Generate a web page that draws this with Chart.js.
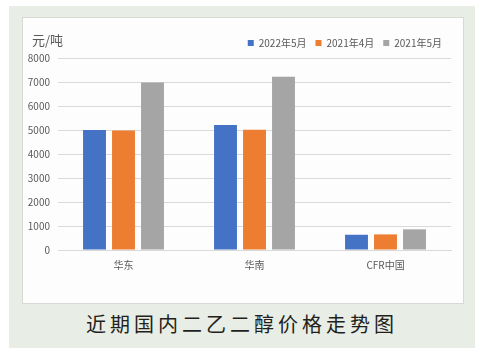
<!DOCTYPE html>
<html lang="zh">
<head>
<meta charset="UTF-8">
<title>近期国内二乙二醇价格走势图</title>
<script src="https://cdn.jsdelivr.net/npm/chart.js"></script>
<style>
    body {
        margin: 0;
        padding: 0;
        background: #ffffff;
        font-family: 'Noto Sans CJK SC', 'Noto Sans', sans-serif;
    }
    .frame {
        position: absolute;
        left: 9px;
        top: 6px;
        width: 466px;
        height: 342px;
        background: #e8ede6;
    }
    .card {
        position: absolute;
        left: 22px;
        top: 17px;
        width: 440px;
        height: 285px;
        background: #fdfdfd;
        border: 1px solid #d6d9d4;
    }
    .unit {
        position: absolute;
        left: 9px;
        top: 12px;
        font-size: 13px;
        color: #595959;
    }
    .caption {
        position: absolute;
        left: 9px;
        top: 309px;
        width: 466px;
        text-align: center;
        font-size: 20px;
        letter-spacing: 4px;
        color: #231f1c;
    }
    canvas { display: block; }
</style>
</head>
<body>
<div class="frame"></div>
<div class="card">
    <canvas id="chart" width="440" height="285"></canvas>
    <div class="unit">元/吨</div>
</div>
<div class="caption">近期国内二乙二醇价格走势图</div>

<script>
    // 数据
    const regions = ['华东', '华南', 'CFR中国'];
    const may2022 = [5000, 5210, 635];
    const apr2021 = [4980, 5010, 650];
    const may2021 = [6980, 7220, 860];
    const seriesNames = ['2022年5月', '2021年4月', '2021年5月'];

    const font = "'Noto Sans CJK SC', 'Noto Sans', sans-serif";

    new Chart(document.getElementById('chart'), {
        type: 'bar',
        data: {
            labels: regions,
            datasets: [
                { label: seriesNames[0], data: may2022, backgroundColor: '#4472c4' },
                { label: seriesNames[1], data: apr2021, backgroundColor: '#ed7d31' },
                { label: seriesNames[2], data: may2021, backgroundColor: '#a5a5a5' }
            ]
        },
        options: {
            responsive: false,
            animation: false,
            categoryPercentage: 0.664,
            barPercentage: 0.79,
            layout: {
                padding: { left: 0, right: 12, top: 11, bottom: 31 }
            },
            plugins: {
                legend: {
                    position: 'top',
                    align: 'end',
                    labels: {
                        boxWidth: 6,
                        boxHeight: 6,
                        padding: 9,
                        color: '#595959',
                        font: { family: font, size: 10 }
                    }
                },
                tooltip: { enabled: false }
            },
            scales: {
                x: {
                    grid: { display: false },
                    border: { color: '#d9d9d9' },
                    ticks: {
                        color: '#595959',
                        padding: 1,
                        font: { family: font, size: 10 }
                    }
                },
                y: {
                    min: 0,
                    max: 8000,
                    border: { display: false },
                    grid: { color: '#d9d9d9', drawTicks: false },
                    afterFit: scale => { scale.width = 35; },
                    ticks: {
                        stepSize: 1000,
                        padding: 8,
                        color: '#595959',
                        font: { family: font, size: 10 },
                        callback: v => String(v)
                    }
                }
            }
        }
    });
</script>
</body>
</html>
